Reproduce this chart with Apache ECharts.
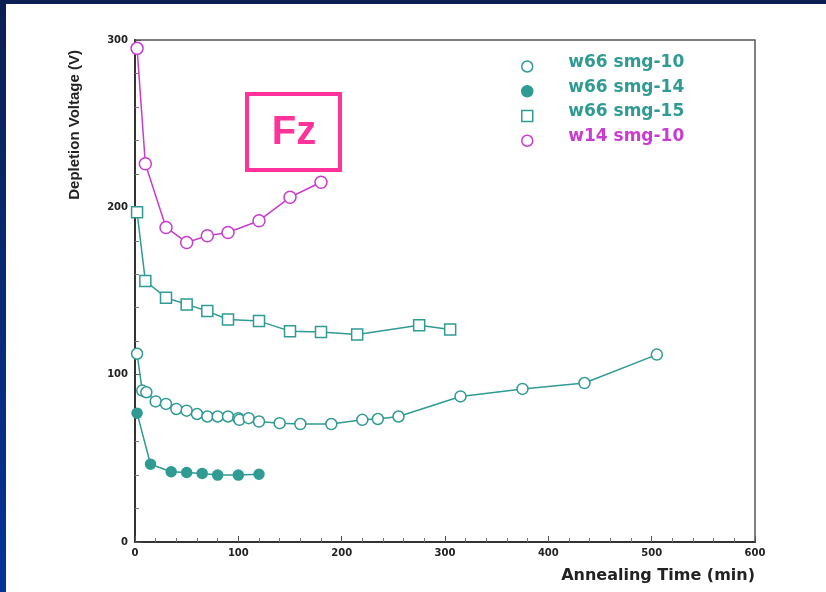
<!DOCTYPE html>
<html>
<head>
<meta charset="utf-8">
<script src="https://cdn.jsdelivr.net/npm/echarts@6/dist/echarts.min.js"></script>
<style>
  html, body { margin: 0; padding: 0; background: #fff; }
  #chart { width: 826px; height: 592px; }
</style>
</head>
<body>
<div id="chart"></div>
<script>
// Depletion voltage vs annealing time, [minutes, volts]
const w66smg10 = [[2,112.5],[7,90.5],[11,89.5],[20,84],[30,82.5],[40,79.5],[50,78.5],[60,76.5],[70,75],[80,75],[90,75],[100,74],[101,73],[110,74],[120,72],[140,71],[160,70.5],[190,70.5],[220,73],[235,73.5],[255,75],[315,87],[375,91.5],[435,95],[505,112]];
const w66smg14 = [[2,77],[15,46.5],[35,42],[50,41.5],[65,41],[80,40],[100,40],[120,40.5]];
const w66smg15 = [[2,197],[10,156],[30,146],[50,142],[70,138],[90,133],[120,132],[150,126],[180,125.5],[215,124],[275,129.5],[305,127]];
const w14smg10 = [[2,295],[10,226],[30,188],[50,179],[70,183],[90,185],[120,192],[150,206],[180,215]];

const seriesNames = ['w66 smg-10', 'w66 smg-14', 'w66 smg-15', 'w14 smg-10'];
const xTicks = [0, 100, 200, 300, 400, 500, 600];
const yTicks = [0, 100, 200, 300];

const TEAL = '#2f9b93';
const MAGENTA = '#c93ccf';
const PINK = '#ff3399';
const SQUARE = 'path://M0,0L10,0L10,10L0,10Z';

function lineSeries(name, data, color, symbol, size, filled) {
  return {
    name, type: 'line', data, symbol, symbolSize: size,
    showAllSymbol: true,
    lineStyle: { color, width: 1.5 },
    itemStyle: { color: filled ? color : '#fff', borderColor: color, borderWidth: 1.5 },
    emphasis: { disabled: true },
    animation: false
  };
}

const chart = echarts.init(document.getElementById('chart'), null, { renderer: 'canvas' });

const legendIcons = ['circle', 'circle', SQUARE, 'circle'];
const legendColors = [TEAL, TEAL, TEAL, MAGENTA];
const legendFilled = [false, true, false, false];

chart.setOption({
  backgroundColor: '#fff',
  animation: false,
  grid: { left: 135, right: 71, top: 40, bottom: 50, show: true, borderColor: '#555', borderWidth: 1.5, backgroundColor: 'transparent' },
  legend: {
    orient: 'vertical', left: 516, top: 49,
    itemWidth: 72, itemHeight: 11, itemGap: 6,
    selectedMode: false,
    data: seriesNames.map((n, i) => ({
      name: n, icon: legendIcons[i],
      itemStyle: { color: legendFilled[i] ? legendColors[i] : '#fff', borderColor: legendColors[i], borderWidth: 1.5 },
      textStyle: {
        color: legendColors[i], fontFamily: 'DejaVu Sans', fontWeight: 'bold', fontSize: 17,
        rich: { t: { color: legendColors[i], fontFamily: 'DejaVu Sans', fontWeight: 'bold', fontSize: 17, padding: [0, 0, 8, 0] } }
      }
    })),
    formatter: name => '{t|' + name + '}'
  },
  xAxis: {
    type: 'value', min: 0, max: 600, interval: 100,
    name: 'Annealing Time (min)', nameLocation: 'end', nameGap: 0,
    nameTextStyle: { fontFamily: 'DejaVu Sans', fontWeight: 'bold', fontSize: 16, color: '#222', align: 'right', verticalAlign: 'top', padding: [26, 0, 0, 0] },
    axisLine: { show: true, onZero: false, lineStyle: { color: '#333', width: 2 } },
    axisTick: { show: true, inside: true, length: 6, lineStyle: { color: '#555', width: 1 } },
    minorTick: { show: true, splitNumber: 5, length: 4, lineStyle: { color: '#777', width: 1 } },
    splitLine: { show: false },
    axisLabel: { margin: 6, fontFamily: 'DejaVu Sans', fontWeight: 'bold', fontSize: 10, color: '#222', formatter: v => xTicks.includes(v) ? String(v) : '' }
  },
  yAxis: {
    type: 'value', min: 0, max: 300, interval: 100,
    name: 'Depletion Voltage (V)', nameLocation: 'end', nameGap: -10, nameRotate: 90,
    nameTextStyle: { fontFamily: 'Liberation Sans', fontWeight: 'bold', fontSize: 15, color: '#222', align: 'right', verticalAlign: 'bottom', padding: [0, 0, 53, 0] },
    axisLine: { show: true, onZero: false, lineStyle: { color: '#333', width: 2 } },
    axisTick: { show: true, inside: true, length: 6, lineStyle: { color: '#555', width: 1 } },
    minorTick: { show: true, splitNumber: 5, length: 4, lineStyle: { color: '#777', width: 1 } },
    splitLine: { show: false },
    axisLabel: { margin: 7, fontFamily: 'DejaVu Sans', fontWeight: 'bold', fontSize: 10, color: '#222', formatter: v => yTicks.includes(v) ? String(v) : '' }
  },
  series: [
    lineSeries(seriesNames[0], w66smg10, TEAL, 'circle', 11, false),
    lineSeries(seriesNames[1], w66smg14, TEAL, 'circle', 10, true),
    lineSeries(seriesNames[2], w66smg15, TEAL, 'rect', 11, false),
    lineSeries(seriesNames[3], w14smg10, MAGENTA, 'circle', 12, false)
  ],
  graphic: [
    // navy frame along the top and left edges
    { type: 'rect', left: 0, top: 0, shape: { width: 826, height: 4 }, style: { fill: '#0c1f52' }, silent: true, z: 100 },
    { type: 'rect', left: 0, top: 0, shape: { width: 6, height: 592 },
      style: { fill: new echarts.graphic.LinearGradient(0, 0, 0, 1, [{ offset: 0, color: '#0c1f52' }, { offset: 1, color: '#05339a' }]) }, silent: true, z: 100 },
    // "Fz" tag
    { type: 'rect', shape: { x: 247, y: 94, width: 93, height: 76 }, style: { fill: 'none', stroke: PINK, lineWidth: 4 }, silent: true, z: 50 },
    { type: 'text', x: 294, y: 133, style: { text: 'Fz', fill: PINK, font: 'bold 40px "Liberation Sans", Arial, sans-serif', align: 'center', verticalAlign: 'middle' }, silent: true, z: 50 }
  ]
});
</script>
</body>
</html>
